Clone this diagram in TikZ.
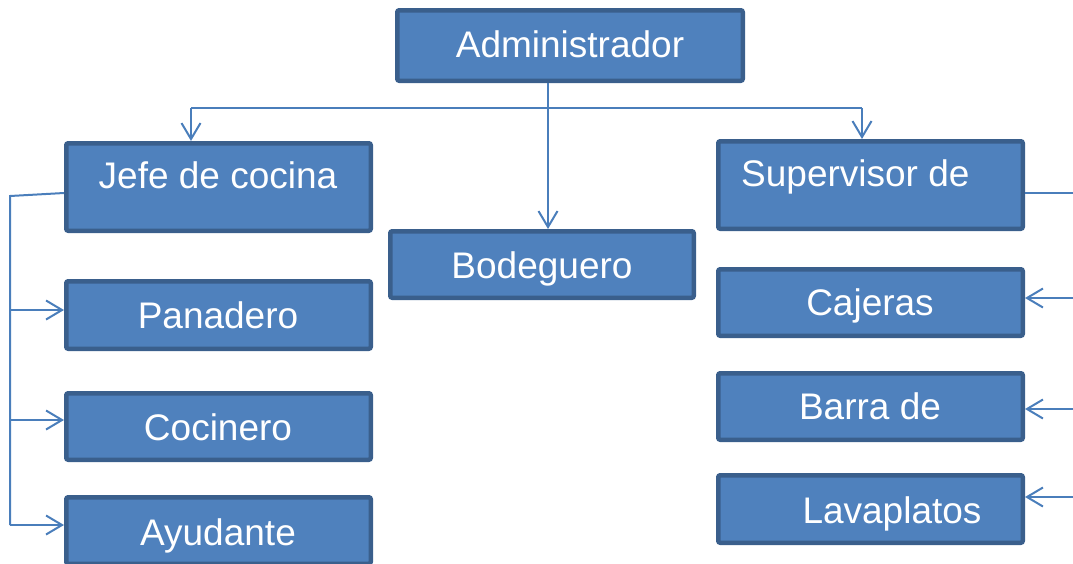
\documentclass[tikz,border=0pt]{standalone}
\usepackage{fontspec}
\setmainfont{Liberation Sans}
\usetikzlibrary{arrows.meta}
\definecolor{boxfill}{HTML}{4F81BD}
\definecolor{boxline}{HTML}{3A5F8C}
\definecolor{connc}{HTML}{4A7EBB}
\tikzset{
  box/.style={draw=boxline, fill=boxfill, line width=4.5pt, rounded corners=2pt, inner sep=0pt},
  lbl/.style={text=white, font=\fontsize{37}{40}\selectfont, inner sep=0pt, anchor=base},
  conn/.style={draw=connc, line width=2pt},
  arr/.style={conn, -{Straight Barb[length=16pt,width=19pt,line width=2pt]}}
}
\begin{document}
\begin{tikzpicture}[x=1pt,y=-1pt]
\useasboundingbox (0,0) rectangle (1073,563);
% boxes
\node[box, minimum width=345.5pt, minimum height=70.5pt] (adm) at (570,45.5) {};
\node[box, minimum width=304.5pt, minimum height=87.5pt] (jefe) at (218.5,187) {};
\node[box, minimum width=304.5pt, minimum height=87.5pt] (sup) at (870.5,185) {};
\node[box, minimum width=303.5pt, minimum height=66.5pt] (bod) at (542,264.5) {};
\node[box, minimum width=304.5pt, minimum height=67.5pt] (pan) at (218.5,315) {};
\node[box, minimum width=304.5pt, minimum height=66.5pt] (coc) at (218.5,426.5) {};
\node[box, minimum width=304.5pt, minimum height=66.5pt] (ayu) at (218.5,530.5) {};
\node[box, minimum width=304.5pt, minimum height=66.5pt] (caj) at (870.5,302.5) {};
\node[box, minimum width=304.5pt, minimum height=66.5pt] (bar) at (870.5,406.5) {};
\node[box, minimum width=304.5pt, minimum height=67.5pt] (lav) at (870.5,509) {};
% labels
\node[lbl] (tadm) at (570,57) {Administrador};
\node[lbl] (tjefe) at (218,188) {Jefe de cocina};
\node[lbl, anchor=base west] (tsup) at (741,186) {Supervisor de};
\node[lbl] (tbod) at (542,278) {Bodeguero};
\node[lbl] (tpan) at (218,328) {Panadero};
\node[lbl] (tcoc) at (218,440) {Cocinero};
\node[lbl] (tayu) at (218,545) {Ayudante};
\node[lbl] (tcaj) at (870,315) {Cajeras};
\node[lbl] (tbar) at (870,419) {Barra de};
\node[lbl] (tlav) at (892,523) {Lavaplatos};
% top connectors
\coordinate (hl) at (191,108);
\coordinate (hr) at (862,108);
\draw[conn] (hl) -- (hr);
\draw[arr] ([xshift=-22pt]adm.south) -- ([xshift=6pt]bod.north);
\draw[arr] (hl) -- ([xshift=-27.5pt]jefe.north);
\draw[arr] (hr) -- ([xshift=-8.5pt]sup.north);
% left connectors
\coordinate (lt) at (10,196);
\coordinate (lb) at (10,525);
\draw[conn] ([yshift=-6pt]jefe.west) -- (lt) -- (lb);
\draw[arr] (lt |- 0,310) -- ([yshift=5pt]pan.west);
\draw[arr] (lt |- 0,420) -- ([yshift=6.5pt]coc.west);
\draw[arr] (lb) -- ([yshift=5.5pt]ayu.west);
% right connectors
\coordinate (rs) at (1073,193);
\coordinate (rc) at (1073,298);
\coordinate (rb) at (1073,409);
\coordinate (rl) at (1073,497);
\draw[conn] ([yshift=-8pt]sup.east) -- (rs);
\draw[arr] (rc) -- ([yshift=4.5pt]caj.east);
\draw[arr] (rb) -- ([yshift=-2.5pt]bar.east);
\draw[arr] (rl) -- ([yshift=12pt]lav.east);
\end{tikzpicture}
\end{document}
